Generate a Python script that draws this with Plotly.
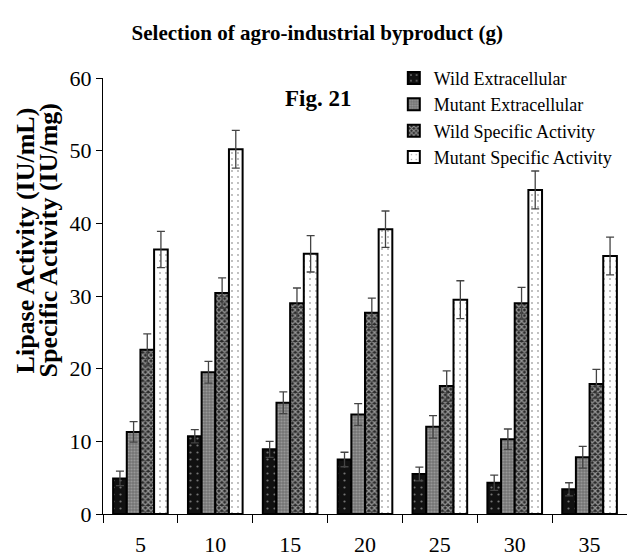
import plotly.graph_objects as go

# Byproduct amount (g)
amounts = ["5", "10", "15", "20", "25", "30", "35"]

wild_extracellular = [4.9, 10.7, 8.9, 7.5, 5.5, 4.3, 3.4]
wild_extracellular_err = [1.0, 0.9, 1.1, 1.0, 0.95, 1.05, 0.9]

mutant_extracellular = [11.3, 19.5, 15.3, 13.7, 12.0, 10.3, 7.8]
mutant_extracellular_err = [1.4, 1.5, 1.5, 1.5, 1.55, 1.4, 1.5]

wild_specific = [22.6, 30.4, 29.0, 27.7, 17.6, 29.0, 17.9]
wild_specific_err = [2.2, 2.1, 2.1, 2.0, 2.1, 2.2, 2.0]

mutant_specific = [36.4, 50.2, 35.8, 39.2, 29.5, 44.6, 35.5]
mutant_specific_err = [2.5, 2.6, 2.5, 2.5, 2.6, 2.6, 2.6]

serif = "Liberation Serif, Times New Roman, serif"

series = [
    ("Wild Extracellular", wild_extracellular, wild_extracellular_err,
     dict(shape=".", bgcolor="#111111", fgcolor="#d8d8d8", size=7, solidity=0.08)),
    ("Mutant Extracellular", mutant_extracellular, mutant_extracellular_err,
     dict(shape=".", bgcolor="#747474", fgcolor="#bcbcbc", size=3, solidity=0.4)),
    ("Wild Specific Activity", wild_specific, wild_specific_err,
     dict(shape="x", bgcolor="#2a2a2a", fgcolor="#ffffff", size=4, solidity=0.55)),
    ("Mutant Specific Activity", mutant_specific, mutant_specific_err,
     dict(shape=".", bgcolor="#ffffff", fgcolor="#4a4a4a", size=6, solidity=0.07)),
]

fig = go.Figure()
for name, vals, errs, pat in series:
    fig.add_trace(go.Bar(
        name=name,
        x=amounts,
        y=vals,
        marker=dict(pattern=pat, line=dict(color="black", width=2)),
        error_y=dict(type="data", array=errs, visible=True,
                     color="#444444", thickness=1.3, width=4),
    ))

fig.update_layout(
    width=627,
    height=557,
    barmode="group",
    bargap=0.27,
    bargroupgap=0,
    paper_bgcolor="white",
    plot_bgcolor="white",
    margin=dict(l=103, r=0, t=78, b=43),
    font=dict(family=serif, color="black"),
    title=dict(
        text="<b>Selection of agro-industrial byproduct (g)</b>",
        x=0.506, xanchor="center",
        y=1 - 33 / 557, yanchor="middle",
        font=dict(family=serif, size=21, color="black"),
    ),
    legend=dict(
        x=0.555, xanchor="left",
        y=1.042, yanchor="top",
        bgcolor="rgba(0,0,0,0)",
        font=dict(family=serif, size=18, color="black"),
        traceorder="normal",
    ),
    xaxis=dict(
        type="category",
        range=[-0.5, 6.5],
        showline=True, linecolor="black", linewidth=1,
        ticks="outside", tickson="boundaries", ticklen=8,
        tickcolor="black", tickwidth=1,
        ticklabelstandoff=11,
        tickfont=dict(family=serif, size=22, color="black"),
        showgrid=False, zeroline=False,
    ),
    yaxis=dict(
        range=[0, 60],
        tickvals=[0, 10, 20, 30, 40, 50, 60],
        showline=True, linecolor="black", linewidth=1,
        ticks="outside", ticklen=6, tickcolor="black", tickwidth=1,
        tickfont=dict(family=serif, size=22, color="black"),
        showgrid=False, zeroline=False,
    ),
)

# Two-line y-axis label and figure tag
fig.add_annotation(
    text="<b>Lipase Activity (IU/mL)</b>", textangle=-90,
    xref="paper", yref="paper", x=0, y=0.6275,
    xanchor="center", yanchor="middle", xshift=-78,
    showarrow=False, font=dict(family=serif, size=26, color="black"),
)
fig.add_annotation(
    text="<b>Specific Activity (IU/mg)</b>", textangle=-90,
    xref="paper", yref="paper", x=0, y=0.6275,
    xanchor="center", yanchor="middle", xshift=-55,
    showarrow=False, font=dict(family=serif, size=26, color="black"),
)
fig.add_annotation(
    text="<b>Fig. 21</b>",
    xref="paper", yref="paper", x=(318 - 103) / 524, y=(513.7 - 98) / 435.7,
    xanchor="center", yanchor="middle",
    showarrow=False, font=dict(family=serif, size=23, color="black"),
)

fig.write_html("out.html")
